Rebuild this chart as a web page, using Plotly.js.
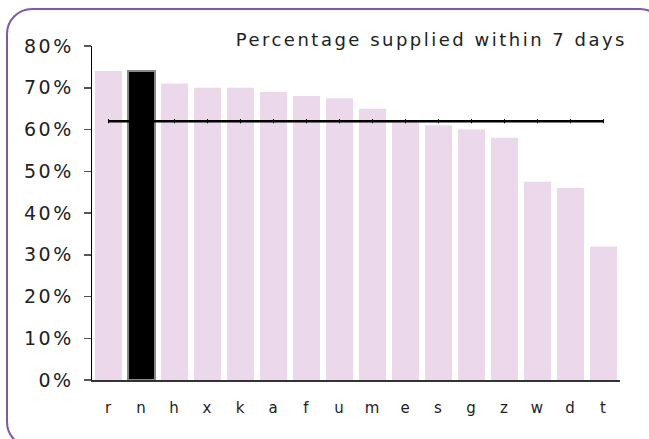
<!DOCTYPE html>
<html>
<head>
<meta charset="utf-8">
<script src="https://cdn.plot.ly/plotly-3.0.1.min.js"></script>
<style>
  html, body { margin: 0; padding: 0; background: #fff; overflow: hidden; }
  #wrap { position: relative; width: 649px; height: 439px; }
  #frame { position: absolute; left: 6px; top: 8px; width: 660px; height: 440px;
           border: 2px solid #7f58a8; border-radius: 26px; box-sizing: border-box; pointer-events: none; }
  #chart { position: absolute; left: 0; top: 0; width: 649px; height: 439px; }
  #chart .gtitle { letter-spacing: 2.5px; }
  #chart .ytick text { letter-spacing: 2.5px; }
  #chart .xtick text { letter-spacing: 1px; }
</style>
</head>
<body>
<div id="wrap">
  <div id="chart"></div>
  <div id="frame"></div>
</div>
<script>
const categories = ["r","n","h","x","k","a","f","u","m","e","s","g","z","w","d","t"];
const supplied = [0.74, 0.74, 0.71, 0.70, 0.70, 0.69, 0.68, 0.675, 0.65, 0.62, 0.61, 0.60, 0.58, 0.475, 0.46, 0.32];
const average = [0.62,0.62,0.62,0.62,0.62,0.62,0.62,0.62,0.62,0.62,0.62,0.62,0.62,0.62,0.62,0.62];
const highlight = "n";
const yTicks = [0, 0.1, 0.2, 0.3, 0.4, 0.5, 0.6, 0.7, 0.8];
const yTickLabels = ["0%","10%","20%","30%","40%","50%","60%","70%","80%"];

const pink = "#ebd8eb";
const barColors = categories.map(c => c === highlight ? "#000000" : pink);
const lineColors = categories.map(c => c === highlight ? "#8a8a8a" : "rgba(0,0,0,0)");
const lineWidths = categories.map(c => c === highlight ? 2 : 0);

const font = "DejaVu Sans, Verdana, sans-serif";

const data = [
  {
    type: "bar", x: categories, y: supplied,
    marker: { color: barColors, line: { color: lineColors, width: lineWidths } },
    hoverinfo: "x+y"
  },
  {
    type: "scatter", mode: "lines+markers", x: categories, y: average,
    line: { color: "#000", width: 2.5 },
    marker: { symbol: "line-ns", size: 3, line: { color: "#000", width: 1 } },
    hoverinfo: "y"
  }
];

const layout = {
  width: 649, height: 439,
  margin: { l: 92, r: 29, t: 46, b: 59 },
  paper_bgcolor: "#fff", plot_bgcolor: "#fff",
  showlegend: false,
  bargap: 0.18,
  title: {
    text: "Percentage supplied within 7 days",
    font: { family: font, size: 18, color: "#222" },
    x: 627/649, xanchor: "right", xref: "container",
    y: 1 - 40/439, yanchor: "middle", yref: "container"
  },
  xaxis: {
    type: "category",
    range: [-0.5, categories.length - 0.5],
    showline: true, linecolor: "#333", linewidth: 1.5,
    ticks: "", showgrid: false, zeroline: false,
    tickfont: { family: font, size: 15, color: "#222" },
    ticklabelstandoff: 13
  },
  yaxis: {
    range: [0, 0.8],
    tickvals: yTicks, ticktext: yTickLabels,
    showline: true, linecolor: "#000", linewidth: 1.5,
    ticks: "outside", ticklen: 7, tickcolor: "#555", tickwidth: 1.5,
    showgrid: false, zeroline: false,
    tickfont: { family: font, size: 19, color: "#222" },
    ticklabelstandoff: 6
  }
};

Plotly.newPlot("chart", data, layout, { displayModeBar: false, staticPlot: true });
</script>
</body>
</html>
